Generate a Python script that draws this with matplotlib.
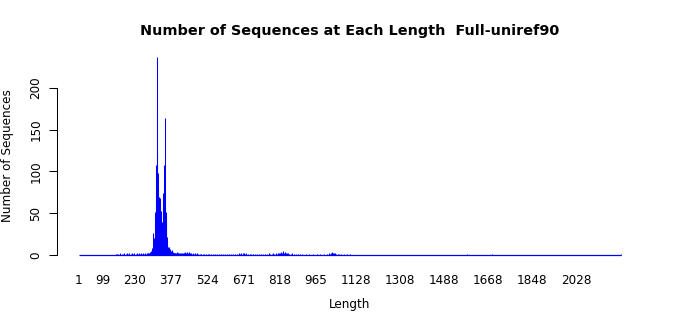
import numpy as np
import matplotlib
matplotlib.use("Agg")
import matplotlib.pyplot as plt

# sequence length -> number of sequences (lengths not listed have 0)
max_length = 2210

noise_left_len = [152, 158, 163, 170, 176, 181, 187, 193, 198, 203, 207, 212, 217, 222, 227,
                  233, 238, 243, 247, 251, 256, 260, 264, 268, 272, 276, 279, 282, 285, 288]
noise_left_cnt = [1, 1, 1, 2, 1, 1, 2, 1, 2, 1, 2, 1, 2, 1, 2,
                  1, 2, 1, 2, 1, 2, 1, 2, 1, 2, 1, 2, 3, 2, 2]

peak_start = 290
peak_cnt = [3, 2, 4, 3, 2, 5, 3, 4, 6, 3,
            5, 8, 6, 26, 9, 12, 7, 16, 21, 17,
            33, 27, 45, 52, 41, 63, 108, 74, 86, 120,
            174, 237, 98, 80, 72, 78, 66, 60, 70, 64,
            56, 68, 52, 58, 47, 53, 42, 49, 36, 30,
            40, 26, 33, 28, 44, 56, 74, 108, 69, 58,
            80, 60, 164, 55, 48, 52, 45, 40, 30, 22,
            18, 15, 12, 10, 8, 9, 5, 4, 10, 6,
            4, 3, 7, 4, 3, 5, 2, 4, 3, 6,
            2, 3, 2, 4, 2, 3, 1, 2, 3, 2]

noise_right_len = [392, 395, 398, 401, 404, 407, 410, 413, 416, 419, 422, 425, 428, 431, 434,
                   437, 440, 443, 446, 449, 452, 455, 458, 462, 466, 470, 474, 478, 483, 488,
                   493, 499, 506, 512, 519, 526, 533, 541, 548, 556, 563, 571, 579, 587, 595,
                   603, 611, 620, 628, 636, 644, 652, 658, 663, 668, 673, 678, 684, 690, 697,
                   704, 712, 720, 728, 736, 744, 752, 760, 767, 774, 780, 786, 792, 798, 803,
                   808, 813, 817, 821, 825, 829, 833, 837, 841, 845, 849, 853, 858, 864, 870,
                   876, 884, 892, 900, 912, 925, 940, 955, 970, 985, 1000, 1012, 1020, 1025, 1030,
                   1034, 1038, 1042, 1046, 1050, 1055, 1062, 1070, 1080, 1092, 1105, 1580, 1682, 2210]
noise_right_cnt = [2, 3, 2, 4, 2, 3, 2, 3, 2, 1, 2, 3, 2, 3, 4,
                   3, 4, 3, 2, 4, 3, 2, 2, 1, 2, 1, 2, 1, 2, 1,
                   1, 1, 1, 1, 1, 1, 1, 1, 1, 1, 1, 1, 1, 1, 1,
                   1, 1, 1, 1, 1, 1, 2, 1, 2, 3, 2, 1, 2, 1, 1,
                   1, 1, 1, 1, 1, 1, 1, 1, 1, 2, 1, 1, 2, 1, 2,
                   1, 2, 3, 2, 4, 3, 5, 3, 4, 2, 3, 2, 1, 1, 2,
                   1, 1, 1, 1, 1, 1, 1, 1, 1, 1, 1, 1, 2, 1, 3,
                   4, 2, 3, 2, 1, 1, 1, 1, 1, 1, 1, 1, 1, 1]

tick_labels = [1, 99, 230, 377, 524, 671, 818, 965, 1128, 1308, 1488, 1668, 1848, 2028]

# build full count table
lengths = np.arange(1, max_length + 1)
counts = np.zeros(max_length)
counts[np.array(noise_left_len) - 1] = noise_left_cnt
counts[peak_start - 1:peak_start - 1 + len(peak_cnt)] = peak_cnt
counts[np.array(noise_right_len) - 1] = noise_right_cnt

fs = 8.64
fig = plt.figure(figsize=(7, 3.15), dpi=100)
ax = fig.add_axes([57 / 700, 1 - 263 / 315, 586 / 700, 214 / 315])

# bars are far thinner than a pixel, so draw each as a 1px line like R's border
nz = counts > 0
ax.vlines(lengths[nz], 0, counts[nz], colors="blue", linewidth=0.75)
# zero-height bars show up as a line along the bottom
ax.plot([lengths[0] - 0.4, lengths[-1] + 0.4], [0, 0], color="blue", lw=0.9, solid_capstyle="butt")

span = lengths[-1] - lengths[0]
ax.set_xlim(lengths[0] - 0.04 * span, lengths[-1] + 0.04 * span)
ymax = counts.max()
ax.set_ylim(-0.04 * ymax, ymax * 1.04)

for s in ["top", "right", "bottom"]:
    ax.spines[s].set_visible(False)
ax.spines["left"].set_bounds(0, 200)
ax.spines["left"].set_linewidth(0.75)

ax.set_yticks([0, 50, 100, 150, 200])
ax.tick_params(axis="y", length=5.5, width=0.75, labelsize=fs, pad=5)
for lab in ax.get_yticklabels():
    lab.set_rotation(90)
    lab.set_va("center")

ax.set_xticks(tick_labels)
ax.set_xticklabels([str(t) for t in tick_labels])
ax.tick_params(axis="x", length=0, labelsize=fs, pad=8)

ax.set_xlabel("Length", fontsize=fs, labelpad=8)
ax.set_ylabel("Number of Sequences", fontsize=fs, labelpad=11)
ax.set_title("Number of Sequences at Each Length  Full-uniref90",
             fontsize=10.4, fontweight="bold", pad=10)

fig.savefig("out.png", dpi=100)
